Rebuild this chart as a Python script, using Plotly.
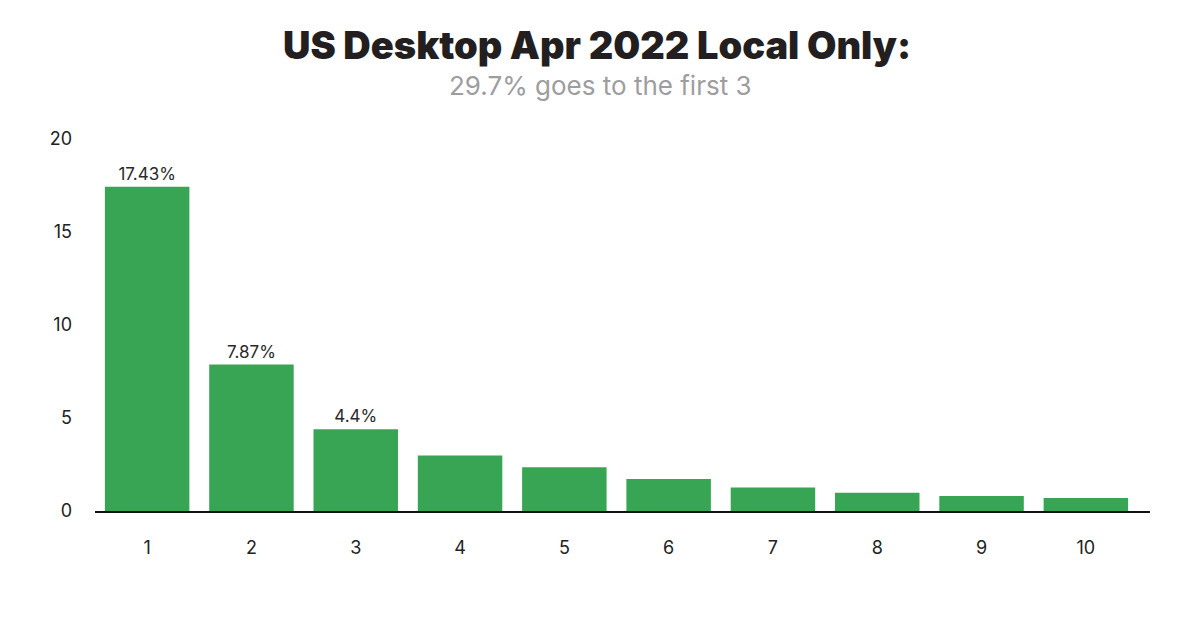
import plotly.graph_objects as go

positions = ["1", "2", "3", "4", "5", "6", "7", "8", "9", "10"]
shares = [17.43, 7.87, 4.4, 2.99, 2.35, 1.72, 1.27, 0.98, 0.80, 0.70]
bar_labels = ["17.43%", "7.87%", "4.4%", "", "", "", "", "", "", ""]
y_ticks = [0, 5, 10, 15, 20]
title_text = "US Desktop Apr 2022 Local Only:"
subtitle_text = "29.7% goes to the first 3"

fig = go.Figure(go.Bar(
    x=positions, y=shares,
    marker=dict(color="#38a554", line=dict(width=0)),
    text=bar_labels, textposition="outside", cliponaxis=False,
    textfont=dict(family="Inter", size=17, color="#2a2a2a"),
))

fig.update_layout(
    width=1200, height=621,
    paper_bgcolor="white", plot_bgcolor="white",
    margin=dict(l=87, r=58, t=131, b=118),
    bargap=0.19,
    showlegend=False,
    annotations=[
        dict(text=title_text, xref="paper", yref="paper", x=0.4758, y=1.2527,
             xanchor="center", yanchor="middle", showarrow=False,
             font=dict(family="Inter", size=38, color="#231f20", weight=900)),
        dict(text=subtitle_text, xref="paper", yref="paper", x=0.4787, y=1.1425,
             xanchor="center", yanchor="middle", showarrow=False,
             font=dict(family="Inter", size=26, color="#9d9d9f", weight=400)),
    ],
    xaxis=dict(
        type="category", range=[-0.5, 9.615],
        showline=True, linecolor="#111111", linewidth=2,
        ticks="", showgrid=False, zeroline=False,
        tickfont=dict(family="Inter", size=18, color="#222222"),
        ticklabelstandoff=19,
    ),
    yaxis=dict(
        range=[0, 20], tickvals=y_ticks, showgrid=False, zeroline=False,
        showline=False, ticks="",
        tickfont=dict(family="Inter", size=18, color="#222222"),
        ticklabelstandoff=22,
    ),
)

fig.write_html("out.html")
